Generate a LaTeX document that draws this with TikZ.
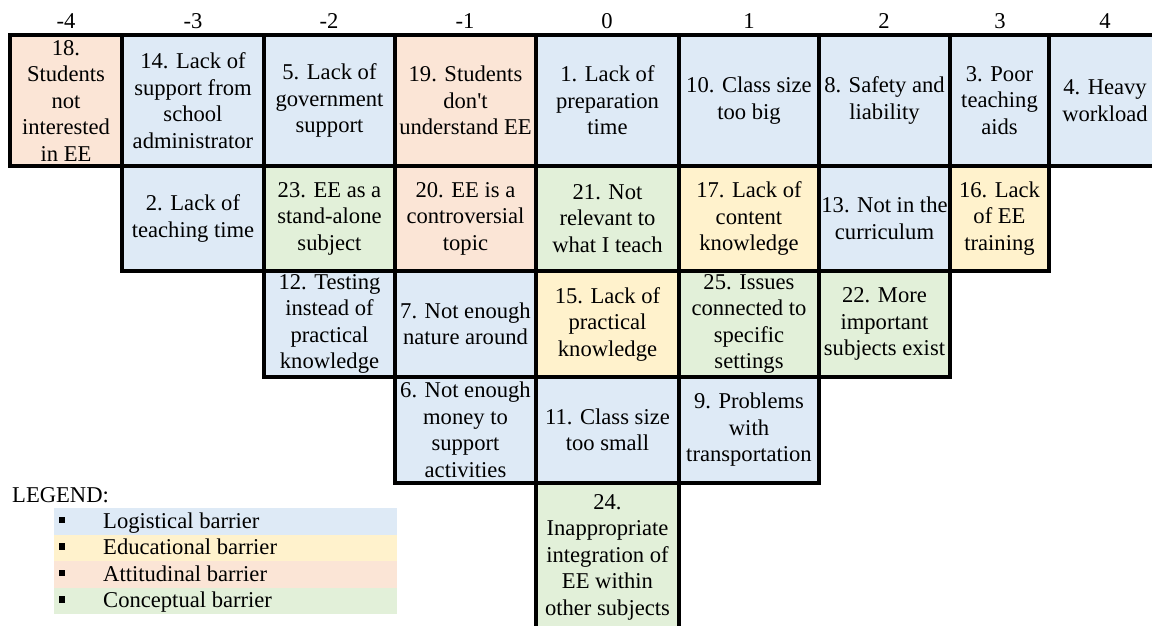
\documentclass[tikz,border=0pt]{standalone}
\usepackage{fontspec}
\setmainfont{Liberation Serif}
\definecolor{logi}{HTML}{DEEAF6}
\definecolor{educ}{HTML}{FFF2CC}
\definecolor{atti}{HTML}{FBE5D6}
\definecolor{conc}{HTML}{E2F0D9}
\tikzset{
  txt/.style={font=\fontsize{22.6}{26.5}\selectfont, inner sep=0pt, text=black},
  cellbox/.style={txt, draw=black, line width=3.2pt, align=center},
  legband/.style={inner sep=0pt, minimum width=343pt, minimum height=26.5pt, anchor=north west},
  legdot/.style={fill=black, inner sep=0pt, minimum size=6.5pt},
}
% one Q-sort cell: name, left, right, top, bottom, fill, text
\newcommand\qcell[7]{%
  \pgfmathsetmacro\cw{#3-#2}\pgfmathsetmacro\ch{#5-#4}%
  \pgfmathsetmacro\cx{(#2+#3)/2}\pgfmathsetmacro\cy{(#4+#5)/2}%
  \node[cellbox, fill=#6, minimum width=\cw pt, minimum height=\ch pt] (#1) at (\cx,\cy) {#7};}
\begin{document}
\begin{tikzpicture}[x=1pt,y=-1pt]
\useasboundingbox (0,0) rectangle (1152,626);
\clip (0,0) rectangle (1152,626);
% column headers
\foreach \v/\c/\n in {-4/66/hm4,-3/193/hm3,-2/329/hm2,-1/465/hm1,0/607/h0,1/749/hp1,2/884/hp2,3/1000/hp3,4/1105/hp4}
  \node[txt, anchor=base] (\n) at (\c,28.5) {\v};
% row 1
\qcell{c18}{10}{122}{35}{166}{atti}{18.\\Students\\not\\interested\\in EE}
\qcell{c14}{122}{264}{35}{166}{logi}{14. Lack of\\support from\\school\\administrator}
\qcell{c5}{264}{395}{35}{166}{logi}{5. Lack of\\government\\support}
\qcell{c19}{395}{536}{35}{166}{atti}{19. Students\\don\textquotesingle t\\understand EE}
\qcell{c1}{536}{679}{35}{166}{logi}{1. Lack of\\preparation\\time}
\qcell{c10}{679}{819}{35}{166}{logi}{10. Class size\\too big}
\qcell{c8}{819}{950}{35}{166}{logi}{8. Safety and\\liability}
\qcell{c3}{950}{1049}{35}{166}{logi}{3. Poor\\teaching\\aids}
\qcell{c4}{1049}{1161}{35}{166}{logi}{4. Heavy\\workload}
% row 2
\qcell{c2}{122}{264}{166}{271}{logi}{2. Lack of\\teaching time}
\qcell{c23}{264}{395}{166}{271}{conc}{23. EE as a\\stand-alone\\subject}
\qcell{c20}{395}{536}{166}{271}{atti}{20. EE is a\\controversial\\topic}
\qcell{c21}{536}{679}{166}{271}{conc}{21. Not\\relevant to\\what I teach}
\qcell{c17}{679}{819}{166}{271}{educ}{17. Lack of\\content\\knowledge}
\qcell{c13}{819}{950}{166}{271}{logi}{13. Not in the\\curriculum}
\qcell{c16}{950}{1049}{166}{271}{educ}{16. Lack\\of EE\\training}
% row 3
\qcell{c12}{264}{395}{271}{377}{logi}{12. Testing\\instead of\\practical\\knowledge}
\qcell{c7}{395}{536}{271}{377}{logi}{7. Not enough\\nature around}
\qcell{c15}{536}{679}{271}{377}{educ}{15. Lack of\\practical\\knowledge}
\qcell{c25}{679}{819}{271}{377}{conc}{25. Issues\\connected to\\specific\\settings}
\qcell{c22}{819}{950}{271}{377}{conc}{22. More\\important\\subjects exist}
% row 4
\qcell{c6}{395}{536}{377}{483}{logi}{6. Not enough\\money to\\support\\activities}
\qcell{c11}{536}{679}{377}{483}{logi}{11. Class size\\too small}
\qcell{c9}{679}{819}{377}{483}{logi}{9. Problems\\with\\transportation}
% row 5
\qcell{c24}{536}{679}{483}{631}{conc}{24.\\Inappropriate\\integration of\\EE within\\other subjects}
% legend
\node[txt, anchor=base west] (legtitle) at (12,502) {LEGEND:};
\foreach \i/\col/\lab [evaluate=\i as \yt using {508+26.5*(\i-1)}] in
    {1/logi/Logistical barrier,2/educ/Educational barrier,3/atti/Attitudinal barrier,4/conc/Conceptual barrier}{
  \node[legband, fill=\col] (lb\i) at (54,\yt) {};
  \node[legdot] (ld\i) at (62,\yt+12) {};
  \node[txt, anchor=base west] (lt\i) at (103,\yt+20) {\lab};
}
\end{tikzpicture}
\end{document}
